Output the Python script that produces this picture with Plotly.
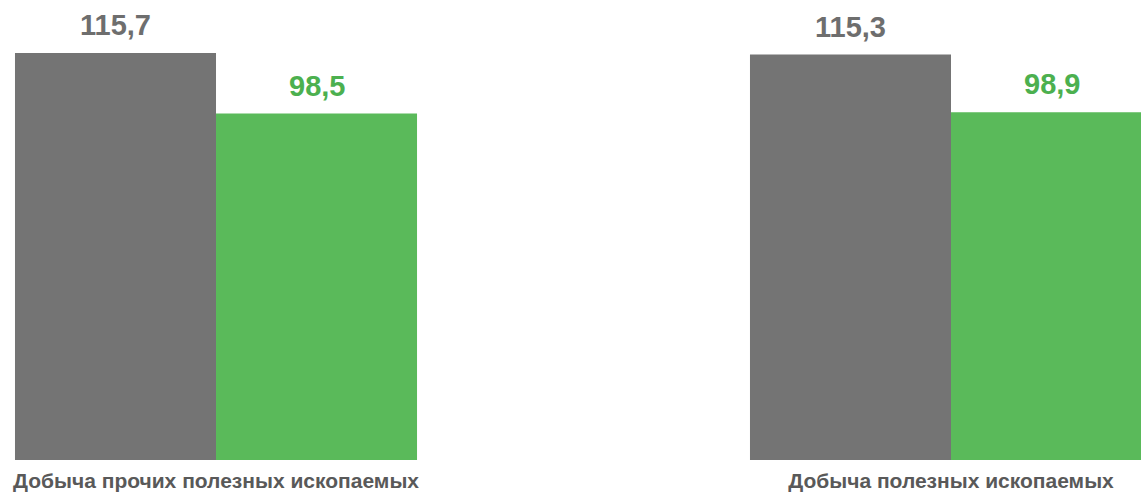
import plotly.graph_objects as go

categories = ["Добыча прочих полезных ископаемых", "Добыча полезных ископаемых"]
series_gray = [115.7, 115.3]
series_green = [98.5, 98.9]
gray_labels = ["115,7", "115,3"]
green_labels = ["98,5", "98,9"]

GRAY = "#747474"
GREEN = "#5aba5a"
GRAY_TXT = "#6e6e6e"
GREEN_TXT = "#4cb04f"
FONT = "Liberation Sans, Arial, sans-serif"

fig = go.Figure()
fig.add_trace(go.Bar(x=categories, y=series_gray, marker=dict(color=GRAY, line=dict(width=0)),
                     name="gray", hoverinfo="skip"))
fig.add_trace(go.Bar(x=categories, y=series_green, marker=dict(color=GREEN, line=dict(width=0)),
                     name="green", hoverinfo="skip"))

W, H = 1141, 496
BOTTOM = 36
ymax = 130.8
x_lo, x_hi = -0.2939, 1.2585
cat_px = W / (x_hi - x_lo)
bargap = 0.453
bar_px = cat_px * (1 - bargap) / 2

annotations = []
for j, c in enumerate(categories):
    annotations.append(dict(x=c, y=series_gray[j], xref="x", yref="y", text=gray_labels[j],
                            showarrow=False, xshift=-bar_px / 2, yshift=10, yanchor="bottom",
                            font=dict(family=FONT, size=29, color=GRAY_TXT, weight=700)))
    annotations.append(dict(x=c, y=series_green[j], xref="x", yref="y", text=green_labels[j],
                            showarrow=False, xshift=bar_px / 2, yshift=10, yanchor="bottom",
                            font=dict(family=FONT, size=29, color=GREEN_TXT, weight=700)))

fig.update_layout(
    width=W, height=H,
    margin=dict(l=0, r=0, t=0, b=BOTTOM),
    barmode="group", bargap=bargap, bargroupgap=0,
    showlegend=False,
    plot_bgcolor="white", paper_bgcolor="white",
    font=dict(family=FONT),
    xaxis=dict(range=[x_lo, x_hi], showgrid=False, zeroline=False, showline=False,
               ticks="", ticklabelstandoff=6,
               tickfont=dict(family=FONT, size=21, color="#595959", weight=700)),
    yaxis=dict(range=[0, ymax], visible=False, showgrid=False, zeroline=False),
    annotations=annotations,
)

fig.write_html("out.html", config={"displayModeBar": False, "staticPlot": True},
               post_script="document.body.style.margin='0';document.body.style.overflow='hidden';")
